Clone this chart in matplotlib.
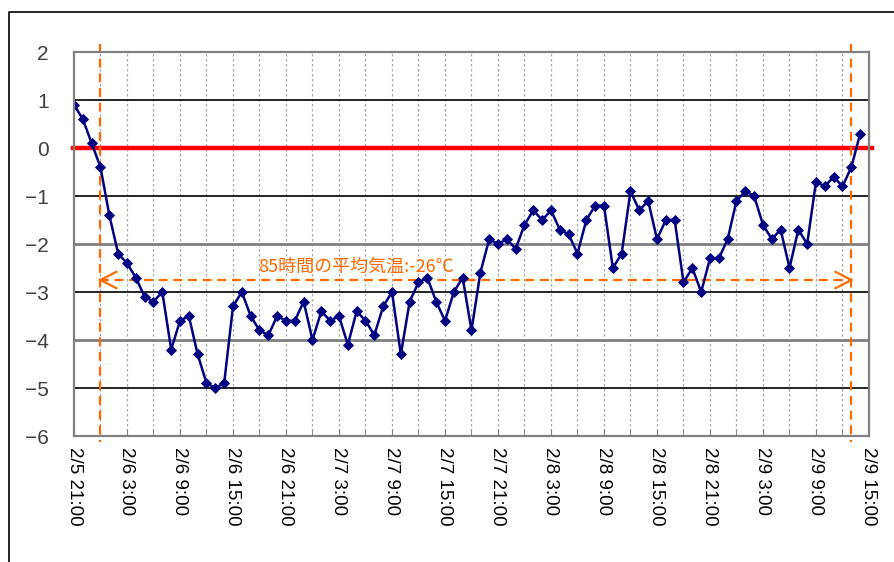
import matplotlib
matplotlib.use("Agg")
import matplotlib.pyplot as plt
from matplotlib.lines import Line2D

# Hourly temperature readings from 2/5 21:00 (hour 0) to 2/9 14:00 (hour 89)
temps = [
    0.9, 0.6, 0.1, -0.4, -1.4, -2.2, -2.4, -2.7, -3.1, -3.2,
    -3.0, -4.2, -3.6, -3.5, -4.3, -4.9, -5.0, -4.9, -3.3, -3.0,
    -3.5, -3.8, -3.9, -3.5, -3.6, -3.6, -3.2, -4.0, -3.4, -3.6,
    -3.5, -4.1, -3.4, -3.6, -3.9, -3.3, -3.0, -4.3, -3.2, -2.8,
    -2.7, -3.2, -3.6, -3.0, -2.7, -3.8, -2.6, -1.9, -2.0, -1.9,
    -2.1, -1.6, -1.3, -1.5, -1.3, -1.7, -1.8, -2.2, -1.5, -1.2,
    -1.2, -2.5, -2.2, -0.9, -1.3, -1.1, -1.9, -1.5, -1.5, -2.8,
    -2.5, -3.0, -2.3, -2.3, -1.9, -1.1, -0.9, -1.0, -1.6, -1.9,
    -1.7, -2.5, -1.7, -2.0, -0.7, -0.8, -0.6, -0.8, -0.4, 0.3,
]
hours = list(range(len(temps)))

# Axis labels every 6 hours
tick_hours = [0, 6, 12, 18, 24, 30, 36, 42, 48, 54, 60, 66, 72, 78, 84, 90]
tick_labels = [
    "2/5 21:00", "2/6 3:00", "2/6 9:00", "2/6 15:00", "2/6 21:00",
    "2/7 3:00", "2/7 9:00", "2/7 15:00", "2/7 21:00", "2/8 3:00",
    "2/8 9:00", "2/8 15:00", "2/8 21:00", "2/9 3:00", "2/9 9:00",
    "2/9 15:00",
]
y_ticks = [2, 1, 0, -1, -2, -3, -4, -5, -6]

# Averaging window (hours) and annotation
span_start, span_end = 3, 88
avg_level = -2.75
avg_text = "85時間の平均気温:-26℃"

ORANGE = "#FF6A00"
GRID_GRAY = "#808080"
tick_font = ["Liberation Sans Narrow", "Liberation Sans", "DejaVu Sans"]

fig = plt.figure(figsize=(8.95, 5.62), dpi=100)
ax = fig.add_axes([74 / 895, 1 - 436 / 562, 795 / 895, 384 / 562])

ax.set_xlim(0, 90)
ax.set_ylim(-6, 2)

# Vertical dotted grid every 3 hours
for h in range(3, 90, 3):
    ax.axvline(h, color="#a8a8a8", lw=0.9, ls=(0, (2, 2)), zorder=1)

# Horizontal grid: odd values black, even values gray
for v in [1, -1, -3, -5]:
    ax.axhline(v, color="black", lw=1.2, zorder=1)
for v in [-2, -4]:
    ax.axhline(v, color=GRID_GRAY, lw=2.0, zorder=1)

# Zero reference line
ax.plot([-0.15, 90.3], [0, 0], color="#FF0000", lw=3.2, zorder=2, clip_on=False)

# Temperature series
ax.plot(hours, temps, color="#000080", lw=1.8, marker="D", ms=5.6,
        mew=0.6, mec="#000080", mfc="#000080", zorder=4)

# Window boundaries
for h in (span_start, span_end):
    ax.plot([h, h], [2.17, -6.13], color=ORANGE, lw=1.6, ls=(0, (4, 2.6)),
            zorder=3, clip_on=False)

# Double-headed dashed arrow showing the averaging window
ax.plot([span_start, span_end], [avg_level, avg_level], color=ORANGE, lw=1.6,
        ls=(0, (4, 2.6)), zorder=3)
hl, hw = 1.8, 0.17
ax.plot([span_start + hl, span_start, span_start + hl],
        [avg_level + hw, avg_level, avg_level - hw],
        color=ORANGE, lw=1.6, zorder=3, solid_joinstyle="miter")
ax.plot([span_end - hl, span_end, span_end - hl],
        [avg_level + hw, avg_level, avg_level - hw],
        color=ORANGE, lw=1.6, zorder=3, solid_joinstyle="miter")
ax.text(20.9, avg_level + 0.08, avg_text, color=ORANGE, fontsize=13,
        family=["Noto Sans CJK JP", "DejaVu Sans"], ha="left", va="bottom",
        zorder=5)

# Ticks and labels
ax.set_xticks(tick_hours)
ax.set_xticklabels(tick_labels, rotation=270, family=tick_font, fontsize=13.5,
                   va="top", ha="center")
ax.set_xticks(range(0, 91, 3), minor=True)
ax.tick_params(axis="x", which="both", direction="in", length=5,
               color=GRID_GRAY, pad=8)
ax.set_yticks(y_ticks)
ax.set_yticklabels([str(v).replace("-", "\u2212") for v in y_ticks],
                   family=tick_font, fontsize=15, color="#404040")
ax.tick_params(axis="y", length=0, pad=18)

for s in ax.spines.values():
    s.set_color(GRID_GRAY)
    s.set_linewidth(1.6)
    s.set_zorder(6)

# Outer chart border (left and top edges)
fig.add_artist(Line2D([9.5 / 895, 9.5 / 895, 1.0], [0.0, 1 - 12 / 562, 1 - 12 / 562],
                      transform=fig.transFigure, color="black", lw=1.2))

fig.savefig("out.png", dpi=100)
